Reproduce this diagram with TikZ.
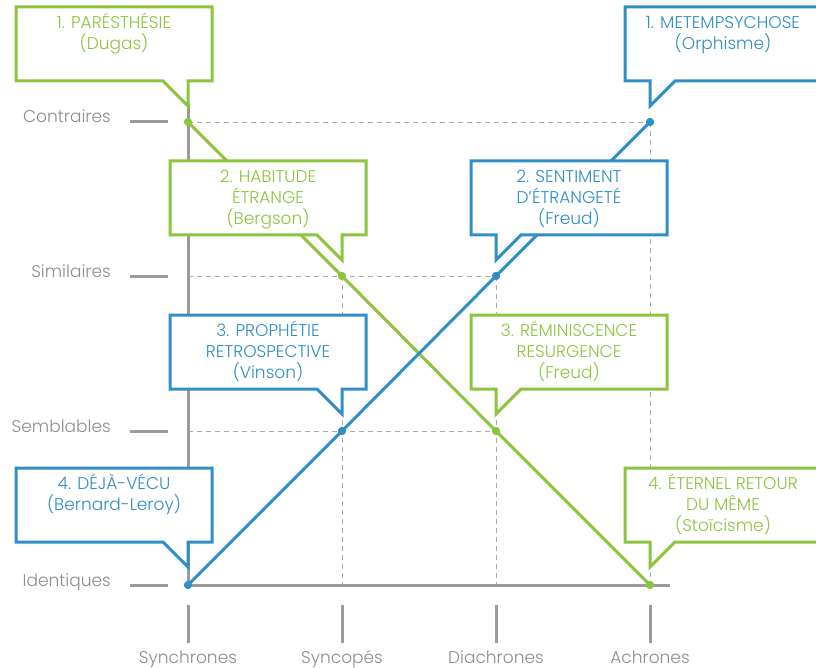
\documentclass[tikz,border=0pt]{standalone}
\usepackage{fontspec}
\IfFontExistsTF{Poppins Light}{\setmainfont{Poppins Light}}{\setmainfont{Poppins}}
\definecolor{cgreen}{RGB}{141,196,63}
\definecolor{cblue}{RGB}{47,142,197}
\definecolor{caxis}{RGB}{155,155,155}
\definecolor{clabel}{RGB}{140,140,140}
\definecolor{cdash}{RGB}{170,170,170}
\tikzset{
  axisline/.style={caxis, line width=3pt},
  guide/.style={cdash, line width=0.9pt, dash pattern=on 5pt off 4pt},
  dataline/.style={line width=3pt},
  dot/.style={circle, fill, inner sep=0pt, minimum size=8pt},
  bubble/.style={line width=3pt, line join=miter},
  bubbletext/.style={align=center, font=\fontsize{17}{21}\selectfont, inner sep=0pt, anchor=north},
  ylab/.style={clabel, anchor=base east, inner sep=0pt, font=\fontsize{17}{20}\selectfont},
  xlab/.style={clabel, anchor=base, inner sep=0pt, font=\fontsize{17}{20}\selectfont}
}
\newcommand\bubbleR[5]{%
  \draw[bubble,draw=#1,fill=white] (#3,#4) -- (#3+196,#4) -- (#3+196,#4+74) -- (#3+172,#4+74) -- (#3+172,#4+99) -- (#3+147,#4+74) -- (#3,#4+74) -- cycle;
  \node[bubbletext,text=#1] (#2) at (#3+98,#4+4) {\rule{0pt}{17pt}#5};}
\newcommand\bubbleL[5]{%
  \draw[bubble,draw=#1,fill=white] (#3,#4) -- (#3+196,#4) -- (#3+196,#4+74) -- (#3+50,#4+74) -- (#3+25,#4+99) -- (#3+25,#4+74) -- (#3,#4+74) -- cycle;
  \node[bubbletext,text=#1] (#2) at (#3+98,#4+4) {\rule{0pt}{17pt}#5};}
\begin{document}
\begin{tikzpicture}[x=1pt,y=-1pt]
\useasboundingbox (0,0) rectangle (816,668);
% axis coordinates
\coordinate (ay1) at (188,122);
\coordinate (ay2) at (188,276);
\coordinate (ay3) at (188,431);
\coordinate (o) at (188,585);
\coordinate (ax2) at (342,585);
\coordinate (ax3) at (496,585);
\coordinate (ax4) at (650,585);
\coordinate (atop) at (188,104);
\coordinate (aend) at (670,585);
% data points
\node[dot,cgreen] (g1) at (188,122) {};
\node[dot,cgreen] (g2) at (342,276) {};
\node[dot,cgreen] (g3) at (496,431) {};
\node[dot,cgreen] (g4) at (650,585) {};
\node[dot,cblue] (b1) at (650,122) {};
\node[dot,cblue] (b2) at (496,276) {};
\node[dot,cblue] (b3) at (342,431) {};
\node[dot,cblue] (b4) at (188,585) {};
% guides
\draw[guide] (g1.center) -- (b1.center);
\draw[guide] (ay2) -- (b2.center);
\draw[guide] (ay3) -- (g3.center);
\draw[guide] (b1.center) -- (g4.center);
\draw[guide] (b2.center) -- (ax3);
\draw[guide] (g2.center) -- (ax2);
% axes
\draw[axisline] (atop) -- (o);
\draw[axisline] (o) -- (aend);
\foreach \yy in {122,276,431,585} \draw[axisline] (130,\yy) -- (168,\yy);
\foreach \xx in {188,342,496,650} \draw[axisline] (\xx,605) -- (\xx,643);
% labels
\node[ylab] (l1) at (111,123) {Contraires};
\node[ylab] (l2) at (111,277) {Similaires};
\node[ylab] (l3) at (111,432) {Semblables};
\node[ylab] (l4) at (111,586) {Identiques};
\node[xlab] (x1) at (188,663) {Synchrones};
\node[xlab] (x2) at (342,663) {Syncopés};
\node[xlab] (x3) at (496,663) {Diachrones};
\node[xlab] (x4) at (650,663) {Achrones};
% data lines
\draw[dataline,cgreen] (g1.center) -- (g2.center) -- (g3.center) -- (g4.center);
\draw[dataline,cblue] (b4.center) -- (b3.center) -- (b2.center) -- (b1.center);
\foreach \n in {g1,g2,g3,g4} \fill[cgreen] (\n) circle (4pt);
\foreach \n in {b1,b2,b3,b4} \fill[cblue] (\n) circle (4pt);
% callouts
\bubbleR{cgreen}{t1}{16}{7}{1. PARÉSTHÉSIE\\(Dugas)}
\bubbleL{cblue}{t2}{625}{7}{1. METEMPSYCHOSE\\(Orphisme)}
\bubbleR{cgreen}{t3}{170}{161}{2. HABITUDE\\ÉTRANGE\\(Bergson)}
\bubbleL{cblue}{t4}{471}{161}{2. SENTIMENT\\D’ÉTRANGETÉ\\(Freud)}
\bubbleR{cblue}{t5}{170}{315}{3. PROPHÉTIE\\RETROSPECTIVE\\(Vinson)}
\bubbleL{cgreen}{t6}{471}{315}{3. RÉMINISCENCE\\RESURGENCE\\(Freud)}
\bubbleR{cblue}{t7}{16}{468}{4. DÉJÀ-VÉCU\\(Bernard-Leroy)}
\bubbleL{cgreen}{t8}{625}{468}{4. ÉTERNEL RETOUR\\DU MÊME\\(Stoïcisme)}
\end{tikzpicture}
\end{document}
